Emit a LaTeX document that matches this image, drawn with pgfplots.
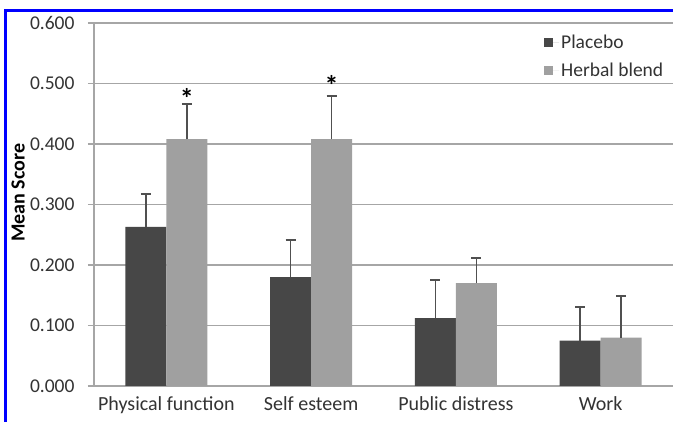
\documentclass[border=0pt]{standalone}
\usepackage{pgfplots}
\pgfplotsset{compat=1.18}
\usepackage{fontspec}
\setmainfont{Carlito}
\definecolor{darkbar}{HTML}{474747}
\definecolor{lightbar}{HTML}{A0A0A0}
\definecolor{gridgray}{HTML}{A6A6A6}
\definecolor{errgray}{HTML}{505050}
\definecolor{txt}{HTML}{333333}
\definecolor{frameblue}{HTML}{0000FF}

\pgfplotstableread{
x y e
0 0.263 0.054
1 0.180 0.061
2 0.112 0.063
3 0.075 0.056
}\placebo
\pgfplotstableread{
x y e
0 0.408 0.058
1 0.408 0.071
2 0.170 0.042
3 0.080 0.068
}\herbal

\begin{document}
\begin{tikzpicture}[x=1pt,y=1pt]
\path[use as bounding box] (0,0) rectangle (673,422);
\fill[white] (0,0) rectangle (673,422);
\begin{axis}[
  at={(94pt,36pt)}, anchor=south west,
  scale only axis, width=579pt, height=363pt,
  xmin=-0.5, xmax=3.5, ymin=0, ymax=0.6,
  ybar=0pt, bar width=41pt,
  axis x line*=bottom, axis y line*=left,
  axis line style={gridgray, line width=1.6pt},
  xtick={0,1,2,3},
  xticklabels={Physical function, Self esteem, Public distress, Work},
  major x tick style={draw=none},
  extra x ticks={0.5,1.5,2.5},
  extra x tick labels={},
  extra x tick style={major tick length=5pt, tick style={gridgray, line width=1.2pt}, grid=none},
  ytick={0,0.1,0.2,0.3,0.4,0.5,0.6},
  ymajorgrids, grid style={gridgray, line width=1.6pt},
  tick align=outside,
  major tick length=6pt,
  ytick style={gridgray, line width=1.6pt},
  /pgf/number format/fixed, /pgf/number format/fixed zerofill, /pgf/number format/precision=3, /pgf/number format/assume math mode=true,
  yticklabel style={font=\fontsize{19.5}{22}\selectfont, text=txt, xshift=-10pt},
  xticklabel style={font=\fontsize{20}{23}\selectfont, text=txt, yshift=-1pt},
  scaled y ticks=false,
  ylabel={\fontsize{20}{22}\selectfont\bfseries Mean Score},
  ylabel style={text=black, at={(axis description cs:-0.131,0.532)}, anchor=center},
  legend style={at={(axis description cs:0.772,0.978)}, anchor=north west, draw=none, fill=none,
    font=\fontsize{19.5}{22}\selectfont, text=txt, row sep=9pt},
  legend cell align=left,
  legend image code/.code={\fill[#1] (0pt,-4.5pt) rectangle (9pt,4.5pt); \path (0pt,0pt) -- (15pt,0pt);},
  error bars/y dir=plus, error bars/y explicit,
  error bars/error bar style={errgray, line width=1.4pt},
  error bars/error mark options={rotate=90, mark size=5pt, line width=2pt, errgray},
  clip=false,
]
\addplot[fill=darkbar, draw=none, bar shift=-20.5pt] table[x=x, y=y, y error=e] {\placebo};
\addplot[fill=lightbar, draw=none, bar shift=20.5pt] table[x=x, y=y, y error=e] {\herbal};
\legend{Placebo, Herbal blend}
\node[font=\fontsize{28}{30}\selectfont\bfseries, text=black] at ([xshift=20.5pt]axis cs:0,0.476) {*};
\node[font=\fontsize{28}{30}\selectfont\bfseries, text=black] at ([xshift=20.5pt]axis cs:1,0.496) {*};
\end{axis}
\draw[frameblue, line width=3pt] (5,0) -- (5,411) -- (673,411);
\end{tikzpicture}
\end{document}
